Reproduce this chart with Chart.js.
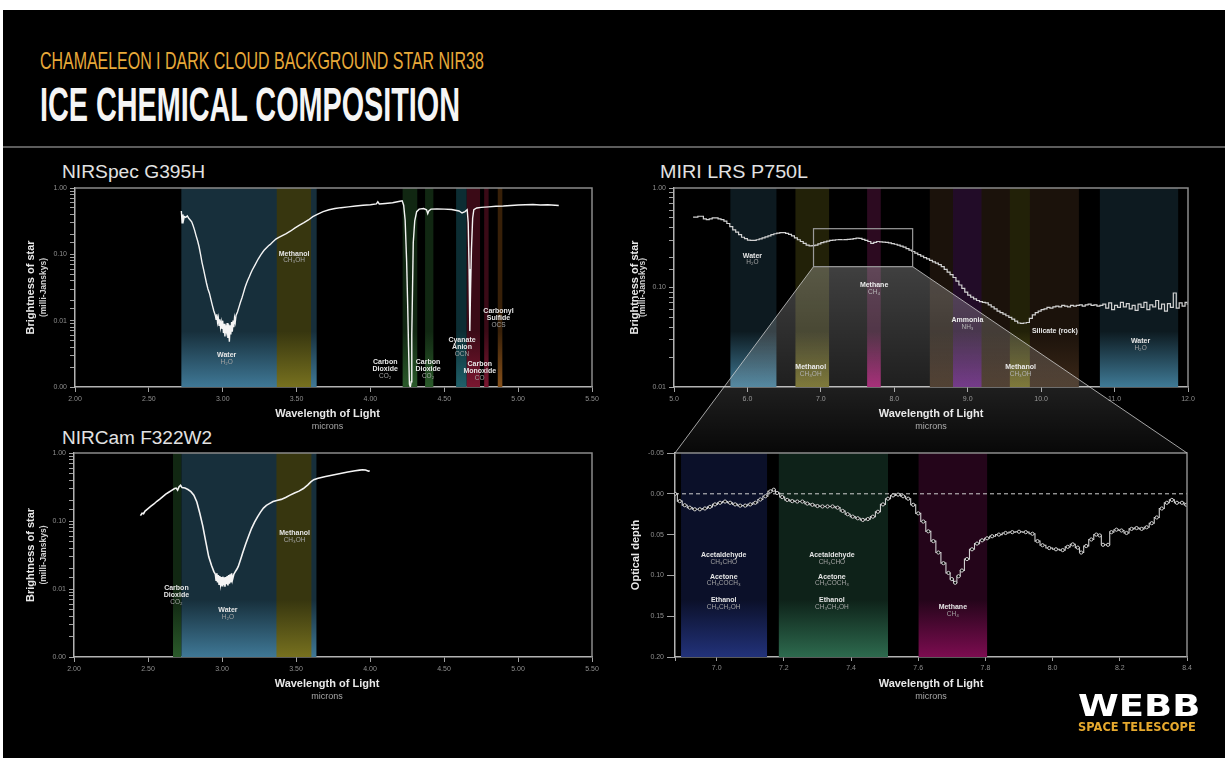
<!DOCTYPE html>
<html><head><meta charset="utf-8">
<script src="https://cdn.jsdelivr.net/npm/chart.js@4.4.1/dist/chart.umd.min.js"></script>
<style>
html,body{margin:0;padding:0;background:#fff;width:1225px;height:758px;overflow:hidden;position:relative}
#frame{position:absolute;left:3px;top:10px;width:1222px;height:748px;background:#000}
#hr{position:absolute;left:3px;top:146px;width:1222px;height:2px;background:#5c5c5c}
.t{position:absolute;white-space:nowrap;transform-origin:0 0;line-height:1}
.box{position:absolute}
.box canvas{display:block}
#ov{position:absolute;left:0;top:0;pointer-events:none}
</style></head><body>
<div id="frame"></div>
<div class="t" data-w="444" style="left:40px;top:47px;font:400 24px 'Liberation Sans',Arial,sans-serif;color:#e8a93a">CHAMAELEON I DARK CLOUD BACKGROUND STAR NIR38</div>
<div class="t" data-w="420" style="left:40px;top:76px;font:700 49px 'Liberation Sans',Arial,sans-serif;color:#f5f5f5">ICE CHEMICAL COMPOSITION</div>
<div id="hr"></div>
<div class="t" data-w="143" style="left:62px;top:162px;font:400 18px 'Liberation Sans',Arial,sans-serif;color:#e2e2e2">NIRSpec G395H</div>
<div class="t" data-w="148" style="left:660px;top:162px;font:400 18px 'Liberation Sans',Arial,sans-serif;color:#e2e2e2">MIRI LRS P750L</div>
<div class="t" data-w="150" style="left:62px;top:428px;font:400 18px 'Liberation Sans',Arial,sans-serif;color:#e2e2e2">NIRCam F322W2</div>
<div class="box" style="left:0;top:150px"><canvas id="cA" width="610" height="290"></canvas></div>
<div class="box" style="left:610px;top:150px"><canvas id="cB" width="615" height="290"></canvas></div>
<div class="box" style="left:0;top:420px"><canvas id="cC" width="610" height="300"></canvas></div>
<div class="box" style="left:610px;top:420px"><canvas id="cD" width="615" height="300"></canvas></div>
<canvas id="ov" width="1225" height="758"></canvas>
<div class="t" data-w="122" style="left:1078px;top:688px;font:700 30px 'DejaVu Sans',sans-serif;color:#fff">WEBB</div>
<div class="t" data-w="118" style="left:1078px;top:720px;font:700 12px 'DejaVu Sans',sans-serif;color:#e6a92e">SPACE TELESCOPE</div>
<script>
// ================= DATA =================
const nirspecWave = [2.720,2.725,2.730,2.735,2.740,2.750,2.760,2.770,2.780,2.790,2.800,2.810,2.820,2.830,2.840,2.850,2.860,2.870,2.880,2.890,2.900,2.910,2.920,2.930,2.940,2.950,2.955,2.960,2.965,2.970,2.975,2.980,2.985,2.990,2.995,3.000,3.005,3.010,3.015,3.020,3.025,3.030,3.035,3.040,3.045,3.050,3.055,3.060,3.065,3.070,3.075,3.080,3.085,3.090,3.100,3.110,3.120,3.130,3.140,3.150,3.160,3.170,3.180,3.190,3.200,3.220,3.240,3.260,3.280,3.300,3.310,3.320,3.340,3.360,3.380,3.400,3.430,3.460,3.490,3.520,3.550,3.580,3.610,3.640,3.680,3.720,3.760,3.800,3.850,3.900,3.950,4.000,4.040,4.050,4.060,4.100,4.150,4.200,4.215,4.225,4.235,4.245,4.252,4.258,4.264,4.270,4.276,4.280,4.285,4.290,4.300,4.313,4.330,4.360,4.380,4.388,4.395,4.410,4.450,4.500,4.550,4.600,4.620,4.640,4.655,4.662,4.668,4.673,4.678,4.684,4.692,4.700,4.720,4.750,4.800,4.850,4.900,4.950,5.000,5.050,5.100,5.150,5.200,5.250,5.275];
const nirspecFlux = [0.45,0.30,0.40,0.33,0.37,0.36,0.38,0.35,0.33,0.31,0.27,0.23,0.19,0.16,0.13,0.10,0.075,0.060,0.047,0.037,0.030,0.026,0.021,0.017,0.014,0.012,0.0105,0.0125,0.0095,0.011,0.0085,0.0105,0.008,0.0095,0.0075,0.010,0.0065,0.009,0.0058,0.0085,0.007,0.0092,0.0055,0.0088,0.0048,0.0085,0.0062,0.0095,0.0068,0.0100,0.0080,0.0110,0.0095,0.0120,0.0135,0.016,0.019,0.022,0.026,0.031,0.036,0.041,0.046,0.052,0.058,0.070,0.085,0.100,0.115,0.128,0.135,0.140,0.155,0.170,0.180,0.190,0.205,0.225,0.250,0.275,0.300,0.330,0.370,0.400,0.440,0.470,0.490,0.505,0.520,0.535,0.550,0.560,0.575,0.62,0.575,0.585,0.600,0.630,0.640,0.55,0.33,0.08,0.018,0.004,0.0011,0.001,0.0012,0.006,0.03,0.15,0.32,0.44,0.48,0.49,0.47,0.41,0.45,0.48,0.485,0.48,0.475,0.45,0.42,0.44,0.47,0.30,0.06,0.007,0.03,0.12,0.35,0.47,0.50,0.51,0.52,0.53,0.535,0.545,0.555,0.56,0.565,0.555,0.56,0.55,0.545];

const nircamWave = [2.449,2.460,2.470,2.480,2.490,2.500,2.520,2.540,2.560,2.580,2.600,2.620,2.640,2.660,2.680,2.690,2.700,2.710,2.720,2.730,2.750,2.770,2.790,2.810,2.830,2.850,2.870,2.890,2.910,2.930,2.945,2.955,2.960,2.965,2.970,2.975,2.980,2.985,2.990,2.995,3.000,3.005,3.010,3.015,3.020,3.025,3.030,3.035,3.040,3.045,3.050,3.055,3.060,3.065,3.070,3.080,3.090,3.100,3.110,3.120,3.130,3.140,3.160,3.180,3.200,3.220,3.240,3.260,3.280,3.300,3.320,3.345,3.370,3.400,3.430,3.460,3.490,3.520,3.550,3.580,3.600,3.620,3.650,3.700,3.750,3.800,3.850,3.900,3.930,3.950,3.970,3.990,3.998];
const nircamFlux = [0.120,0.130,0.128,0.140,0.146,0.152,0.165,0.178,0.195,0.210,0.228,0.248,0.265,0.282,0.300,0.305,0.285,0.320,0.335,0.310,0.305,0.290,0.270,0.240,0.190,0.130,0.085,0.050,0.030,0.022,0.018,0.0165,0.0135,0.017,0.0125,0.016,0.0118,0.0155,0.012,0.015,0.0112,0.0152,0.0115,0.0148,0.0108,0.0150,0.0118,0.0155,0.0113,0.0160,0.0120,0.0165,0.0125,0.0170,0.0135,0.0165,0.0180,0.0195,0.0215,0.025,0.029,0.034,0.046,0.060,0.078,0.096,0.115,0.135,0.155,0.170,0.180,0.193,0.200,0.208,0.222,0.240,0.258,0.275,0.300,0.340,0.375,0.405,0.425,0.450,0.475,0.500,0.525,0.548,0.560,0.568,0.562,0.540,0.548];

const miriWave = [5.26,5.30,5.35,5.38,5.42,5.46,5.50,5.54,5.58,5.62,5.66,5.70,5.74,5.78,5.82,5.86,5.90,5.94,5.98,6.02,6.06,6.10,6.14,6.18,6.22,6.26,6.30,6.34,6.38,6.42,6.46,6.50,6.54,6.58,6.62,6.66,6.70,6.74,6.78,6.82,6.86,6.90,6.94,6.98,7.02,7.06,7.10,7.14,7.18,7.22,7.26,7.30,7.34,7.38,7.42,7.46,7.50,7.54,7.58,7.62,7.66,7.70,7.74,7.78,7.82,7.86,7.90,7.94,7.98,8.02,8.06,8.10,8.14,8.18,8.22,8.26,8.30,8.34,8.38,8.42,8.46,8.50,8.54,8.58,8.62,8.66,8.70,8.74,8.78,8.82,8.86,8.90,8.94,8.98,9.02,9.06,9.10,9.14,9.18,9.22,9.26,9.30,9.34,9.38,9.42,9.46,9.50,9.54,9.58,9.62,9.66,9.70,9.74,9.78,9.82,9.86,9.90,9.94,9.98,10.02,10.06,10.10,10.14,10.18,10.22,10.26,10.30,10.34,10.38,10.42,10.46,10.50,10.54,10.58,10.62,10.66,10.70,10.74,10.78,10.82,10.86,10.90,10.94,10.98,11.02,11.06,11.10,11.14,11.18,11.22,11.26,11.30,11.34,11.38,11.42,11.46,11.50,11.54,11.58,11.62,11.66,11.70,11.74,11.78,11.82,11.86,11.90,11.94,11.98,12.00];
const miriFlux = [0.51,0.51,0.52,0.52,0.49,0.48,0.49,0.50,0.50,0.49,0.48,0.465,0.44,0.41,0.38,0.36,0.34,0.32,0.31,0.30,0.298,0.298,0.302,0.308,0.315,0.322,0.33,0.34,0.347,0.352,0.356,0.356,0.35,0.342,0.33,0.315,0.302,0.29,0.278,0.266,0.262,0.263,0.266,0.275,0.282,0.288,0.293,0.297,0.300,0.302,0.303,0.302,0.303,0.304,0.306,0.310,0.313,0.312,0.305,0.298,0.290,0.277,0.284,0.290,0.288,0.286,0.284,0.281,0.276,0.272,0.266,0.260,0.254,0.246,0.238,0.230,0.222,0.214,0.207,0.200,0.194,0.187,0.181,0.176,0.170,0.162,0.152,0.143,0.135,0.126,0.116,0.106,0.098,0.090,0.084,0.080,0.077,0.074,0.072,0.071,0.070,0.067,0.064,0.061,0.058,0.056,0.054,0.052,0.050,0.048,0.046,0.044,0.0435,0.044,0.0445,0.049,0.053,0.056,0.058,0.060,0.061,0.063,0.062,0.064,0.065,0.064,0.066,0.065,0.064,0.066,0.065,0.066,0.067,0.065,0.067,0.068,0.066,0.067,0.065,0.066,0.068,0.062,0.070,0.060,0.066,0.063,0.071,0.064,0.069,0.061,0.066,0.059,0.068,0.063,0.071,0.060,0.067,0.064,0.074,0.061,0.068,0.058,0.069,0.063,0.088,0.062,0.070,0.065,0.071,0.068];

const depthWave = [6.876,6.890,6.905,6.920,6.935,6.950,6.965,6.980,6.995,7.010,7.025,7.040,7.055,7.070,7.085,7.100,7.115,7.130,7.145,7.160,7.170,7.180,7.195,7.210,7.225,7.240,7.255,7.270,7.285,7.300,7.315,7.330,7.345,7.360,7.375,7.390,7.405,7.420,7.435,7.450,7.465,7.480,7.495,7.510,7.525,7.540,7.555,7.570,7.585,7.600,7.615,7.630,7.645,7.660,7.675,7.690,7.700,7.710,7.720,7.730,7.745,7.760,7.775,7.790,7.805,7.820,7.840,7.860,7.880,7.900,7.920,7.940,7.955,7.970,7.990,8.010,8.030,8.045,8.060,8.075,8.085,8.100,8.115,8.130,8.140,8.150,8.165,8.175,8.190,8.205,8.220,8.235,8.250,8.265,8.280,8.295,8.310,8.325,8.340,8.355,8.370,8.385,8.398];
const depthTau = [0.000,0.009,0.014,0.017,0.019,0.019,0.018,0.016,0.013,0.011,0.0095,0.011,0.013,0.0145,0.0145,0.013,0.011,0.007,0.003,-0.003,-0.005,-0.001,0.004,0.0075,0.009,0.0095,0.0095,0.012,0.0135,0.015,0.0155,0.0155,0.0155,0.017,0.021,0.025,0.028,0.030,0.032,0.031,0.028,0.022,0.013,0.006,0.002,0.001,0.003,0.006,0.0135,0.024,0.034,0.046,0.058,0.072,0.085,0.097,0.1045,0.109,0.101,0.094,0.080,0.068,0.061,0.057,0.0545,0.052,0.050,0.048,0.047,0.0465,0.047,0.049,0.058,0.063,0.0665,0.068,0.069,0.065,0.062,0.066,0.072,0.064,0.056,0.050,0.051,0.0625,0.0625,0.047,0.044,0.045,0.048,0.043,0.042,0.043,0.041,0.036,0.029,0.018,0.011,0.0075,0.011,0.011,0.0135];

const logTickLabels = ['0.00','0.01','0.10','1.00'];   // decades 1e-3 .. 1e0

// bands: [kind, start µm, end µm]
const nirspecBands = [['water',2.72,3.636],['methanol',3.366,3.598],['co2',4.218,4.317],['co2',4.37,4.426],['ocn',4.58,4.652],['co',4.652,4.742],['co',4.77,4.80],['ocs',4.862,4.893]];
const nircamBands = [['co2',2.669,2.726],['water',2.726,3.638],['methanol',3.368,3.604]];
const miriBands = [['waterD',5.768,6.395],['methanolD',6.654,7.112],['methane',7.63,7.816],['silicate',8.484,10.514],['ammonia',8.80,9.188],['methanolD',9.574,9.846],['waterD',10.80,11.866]];
const depthBands = [['navy',6.894,7.150],['green',7.185,7.51],['methaneD',7.601,7.805]];

// molecule labels: [name lines ('|' = new line), formula]
const nirspecLabelText = [['Water','H₂O'],['Methanol','CH₃OH'],['Carbon|Dioxide','CO₂'],['Carbon|Dioxide','CO₂'],['Cyanate|Anion','OCN'],['Carbon|Monoxide','CO'],['Carbonyl|Sulfide','OCS']];
const nircamLabelText = [['Carbon|Dioxide','CO₂'],['Water','H₂O'],['Methanol','CH₃OH']];
const miriLabelText = [['Water','H₂O'],['Methanol','CH₃OH'],['Methane','CH₄'],['Ammonia','NH₃'],['Silicate (rock)',''],['Methanol','CH₃OH'],['Water','H₂O']];
const depthLabelText = [['Acetaldehyde','CH₃CHO'],['Acetone','CH₃COCH₃'],['Ethanol','CH₃CH₂OH'],['Acetaldehyde','CH₃CHO'],['Acetone','CH₃COCH₃'],['Ethanol','CH₃CH₂OH'],['Methane','CH₄']];

// zoomed region of the MIRI spectrum [µm] and [mJy]
const zoomBoxWave = [6.90, 8.25];
const zoomBoxFlux = [0.162, 0.39];

// ================= LAYOUT / STYLE =================
const FONT = "'Liberation Sans', Arial, sans-serif";
const TICK = '#8e8e8e';
const bandColors = {
  water:['#172f3b','#3f7896'], waterD:['#0d1a20','#3f7a96'],
  methanol:['#37360f','#77711f'], methanolD:['#222108','#6e6820'],
  co2:['#112712','#2a5a2a'], ocn:['#0c2d33','#1f5f69'], co:['#3a0a16','#7a1630'], ocs:['#382008','#86501a'],
  methane:['#2c0a20','#9c1468'], methaneD:['#24051a','#7c0c50'],
  silicate:['#1b120b','#3b2818'], ammonia:['#220c28','#62207a'],
  navy:['#0b1029','#22327a'], green:['#0e2219','#2d6a4e']
};
// label positions: [x in µm, y as fraction of plot height (first line)]
const nirspecLabelPos = [[3.027,0.84],[3.483,0.33],[4.10,0.875],[4.39,0.875],[4.62,0.764],[4.74,0.884],[4.867,0.618]];
const nircamLabelPos = [[2.692,0.662],[3.04,0.77],[3.49,0.392]];
const miriLabelPos = [[6.068,0.34],[6.862,0.90],[7.725,0.487],[8.997,0.663],[10.187,0.719],[9.72,0.90],[11.354,0.769]];
const depthLabelPos = [[7.021,0.50],[7.021,0.606],[7.021,0.72],[7.343,0.50],[7.343,0.606],[7.343,0.72],[7.703,0.755]];

const extrasPlugin = {
  id: 'extras',
  beforeDatasetsDraw(chart, args, o) {
    const {ctx, chartArea: a, scales: {x, y}} = chart;
    ctx.save();
    (o.bands || []).forEach(([k, s, e]) => {
      const x1 = x.getPixelForValue(s), x2 = x.getPixelForValue(e);
      const c = bandColors[k];
      const g = ctx.createLinearGradient(0, a.top, 0, a.bottom);
      g.addColorStop(0, c[0]); g.addColorStop(0.72, c[0]); g.addColorStop(1, c[1]);
      ctx.fillStyle = g;
      ctx.fillRect(x1, a.top, x2 - x1, a.bottom - a.top);
    });
    if (o.zeroLine) {
      const yy = y.getPixelForValue(0);
      ctx.setLineDash([4, 3]); ctx.strokeStyle = '#cfcfcf'; ctx.lineWidth = 1;
      ctx.beginPath(); ctx.moveTo(a.left, yy); ctx.lineTo(a.right, yy); ctx.stroke();
      ctx.setLineDash([]);
    }
    ctx.restore();
  },
  afterDatasetsDraw(chart, args, o) {
    const {ctx, chartArea: a, scales: {x}} = chart;
    ctx.save();
    ctx.textAlign = 'center'; ctx.textBaseline = 'middle';
    (o.labelText || []).forEach(([names, formula], i) => {
      const [px, fy] = o.labelPos[i];
      const cx = x.getPixelForValue(px);
      let cy = a.top + fy * (a.bottom - a.top);
      names.split('|').forEach(n => {
        ctx.font = 'bold 7px ' + FONT; ctx.fillStyle = '#e6e6e6';
        ctx.fillText(n, cx, cy); cy += 7.3;
      });
      if (formula) { ctx.font = '6.5px ' + FONT; ctx.fillStyle = '#a5a5a5'; ctx.fillText(formula, cx, cy - 0.3); }
    });
    ctx.restore();
  },
  afterDraw(chart, args, o) {
    const {ctx, chartArea: a} = chart;
    ctx.save();
    ctx.strokeStyle = '#8a8a8a'; ctx.lineWidth = 1.5;
    ctx.beginPath(); ctx.moveTo(a.left, a.top); ctx.lineTo(a.right, a.top); ctx.lineTo(a.right, a.bottom); ctx.stroke();
    ctx.textAlign = 'center'; ctx.textBaseline = 'middle';
    const cx = (a.left + a.right) / 2 + (o.xTitleDx || 0);
    ctx.font = 'bold 11px ' + FONT; ctx.fillStyle = '#e8e8e8';
    ctx.fillText('Wavelength of Light', cx, a.bottom + 27);
    ctx.font = '9px ' + FONT; ctx.fillStyle = '#a8a8a8';
    ctx.fillText('microns', cx, a.bottom + 40);
    const cy = (a.top + a.bottom) / 2;
    ctx.translate(a.left + o.yTitleDx[0], cy); ctx.rotate(-Math.PI / 2);
    ctx.font = 'bold 11px ' + FONT; ctx.fillStyle = '#e8e8e8';
    ctx.fillText(o.yTitle[0], 0, 0);
    if (o.yTitle[1]) {
      ctx.font = 'bold 8.5px ' + FONT; ctx.fillStyle = '#d0d0d0';
      ctx.fillText(o.yTitle[1], 0, o.yTitleDx[1] - o.yTitleDx[0]);
    }
    ctx.restore();
  }
};

function build(id, p) {
  const W = p.size[0], H = p.size[1];
  const yScale = p.log ? {
    type: 'logarithmic', min: p.yMin, max: p.yMax,
    ticks: { autoSkip: false, color: TICK, font: {size: 7, family: FONT}, padding: 3,
      callback(v) { const l = Math.log10(v), r = Math.round(l); return Math.abs(l - r) < 1e-6 ? logTickLabels[r + 3] : ''; } }
  } : {
    type: 'linear', min: p.yMin, max: p.yMax, reverse: true,
    ticks: { stepSize: p.yStep, autoSkip: false, color: TICK, font: {size: 7, family: FONT}, padding: 3,
      callback(v) { return Number(v).toFixed(2); } }
  };
  Object.assign(yScale, {
    afterFit(s) { s.width = p.area[0]; s.paddingTop = 0; s.paddingBottom = 0; },
    grid: { drawOnChartArea: false, tickLength: p.yTickLen, tickColor: '#a3a3a3', tickWidth: 1 },
    border: { color: '#b3b3b3', width: 1.5 }
  });
  return new Chart(document.getElementById(id), {
    type: 'line',
    data: { datasets: p.datasets },
    options: {
      responsive: false, animation: false, events: [],
      layout: { padding: { left: 0, top: p.area[1], right: W - p.area[2], bottom: 0 } },
      plugins: { legend: {display: false}, tooltip: {enabled: false},
        extras: { bands: p.bands, labelText: p.labelText, labelPos: p.labelPos, zeroLine: p.zeroLine,
                  yTitle: p.yTitle, yTitleDx: p.yTitleDx, xTitleDx: p.xTitleDx } },
      scales: {
        x: { type: 'linear', min: p.xMin, max: p.xMax,
          afterFit(s) { s.height = H - p.area[3]; s.paddingLeft = 0; s.paddingRight = 0; },
          ticks: { stepSize: p.xStep, autoSkip: false, maxRotation: 0, color: TICK, font: {size: 7, family: FONT}, padding: 3,
            callback(v) { return (p.hideFirstX && Math.abs(v - p.xMin) < 1e-6) ? '' : Number(v).toFixed(p.xDigits); } },
          grid: { drawOnChartArea: false, tickLength: p.xTickLen, tickColor: '#a3a3a3', tickWidth: 1 },
          border: { color: '#b3b3b3', width: 1.5 } },
        y: yScale
      }
    },
    plugins: [extrasPlugin]
  });
}
const pts = (xs, ys) => xs.map((v, i) => ({x: v, y: ys[i]}));

const chartA = build('cA', {
  size: [610, 290], area: [75, 38, 592, 237], log: true, yMin: 0.001, yMax: 1, yTickLen: 5,
  xMin: 2, xMax: 5.5, xStep: 0.5, xDigits: 2, xTickLen: 5,
  bands: nirspecBands, labelText: nirspecLabelText, labelPos: nirspecLabelPos,
  yTitle: ['Brightness of star', '(milli-Janskys)'], yTitleDx: [-44, -31], xTitleDx: -6,
  datasets: [{ data: pts(nirspecWave, nirspecFlux), borderColor: '#f4f4f4', borderWidth: 1.4, pointRadius: 0, tension: 0 }]
});
const chartB = build('cB', {
  size: [615, 290], area: [64, 38, 578, 237], log: true, yMin: 0.01, yMax: 1, yTickLen: 5,
  xMin: 5, xMax: 12, xStep: 1, xDigits: 1, xTickLen: 5,
  bands: miriBands, labelText: miriLabelText, labelPos: miriLabelPos,
  yTitle: ['Brightness of star', '(milli-Janskys)'], yTitleDx: [-39, -31], xTitleDx: 0,
  datasets: [{ data: pts(miriWave, miriFlux), borderColor: '#d2d2d2', borderWidth: 1.2, pointRadius: 0, stepped: 'middle' }]
});
const chartC = build('cC', {
  size: [610, 300], area: [74, 33, 592, 237], log: true, yMin: 0.001, yMax: 1, yTickLen: 5,
  xMin: 2, xMax: 5.5, xStep: 0.5, xDigits: 2, xTickLen: 5,
  bands: nircamBands, labelText: nircamLabelText, labelPos: nircamLabelPos,
  yTitle: ['Brightness of star', '(milli-Janskys)'], yTitleDx: [-43, -30], xTitleDx: -6,
  datasets: [{ data: pts(nircamWave, nircamFlux), borderColor: '#f4f4f4', borderWidth: 1.6, pointRadius: 0, tension: 0 }]
});
const chartD = build('cD', {
  size: [615, 300], area: [65, 33, 577, 237], log: false, yMin: -0.05, yMax: 0.2, yStep: 0.05, yTickLen: 8,
  xMin: 6.876, xMax: 8.4, xStep: 0.2, xDigits: 1, xTickLen: 4, hideFirstX: true,
  bands: depthBands, labelText: depthLabelText, labelPos: depthLabelPos, zeroLine: true,
  yTitle: ['Optical depth'], yTitleDx: [-39], xTitleDx: 0,
  datasets: [{ data: pts(depthWave, depthTau), borderColor: '#d0d0d0', borderWidth: 1.1, stepped: 'middle',
               pointRadius: 1.6, pointBackgroundColor: '#000', pointBorderColor: '#e2e2e2', pointBorderWidth: 0.9 }]
});

// zoom connector between MIRI spectrum and optical-depth panel
(function drawZoom() {
  const ctx = document.getElementById('ov').getContext('2d');
  const bBox = chartB.canvas.parentNode, dBox = chartD.canvas.parentNode;
  const bx = bBox.offsetLeft, by = bBox.offsetTop, dx = dBox.offsetLeft, dy = dBox.offsetTop;
  const xl = bx + chartB.scales.x.getPixelForValue(zoomBoxWave[0]);
  const xr = bx + chartB.scales.x.getPixelForValue(zoomBoxWave[1]);
  const yt = by + chartB.scales.y.getPixelForValue(zoomBoxFlux[1]);
  const yb = by + chartB.scales.y.getPixelForValue(zoomBoxFlux[0]);
  const L = dx + chartD.chartArea.left, R = dx + chartD.chartArea.right, T = dy + chartD.chartArea.top;
  const axisY = by + chartB.chartArea.bottom;
  const g = ctx.createLinearGradient(0, yb, 0, T);
  const f = (axisY - yb) / (T - yb);
  g.addColorStop(0, 'rgba(255,255,255,0.25)');
  g.addColorStop(f, 'rgba(255,255,255,0.12)');
  g.addColorStop(1, 'rgba(255,255,255,0.03)');
  ctx.fillStyle = g;
  ctx.beginPath(); ctx.moveTo(xl, yb); ctx.lineTo(xr, yb); ctx.lineTo(R, T); ctx.lineTo(L, T); ctx.closePath(); ctx.fill();
  ctx.strokeStyle = 'rgba(215,215,215,0.75)'; ctx.lineWidth = 1;
  ctx.beginPath(); ctx.moveTo(xl, yb); ctx.lineTo(L, T); ctx.moveTo(xr, yb); ctx.lineTo(R, T); ctx.stroke();
  ctx.strokeStyle = '#9a9a9a'; ctx.lineWidth = 1.2;
  ctx.strokeRect(xl, yt, xr - xl, yb - yt);
})();

// condense header texts to their target widths
document.querySelectorAll('.t[data-w]').forEach(el => {
  const w = el.offsetWidth;
  el.style.transform = 'scaleX(' + (parseFloat(el.dataset.w) / w) + ')';
});
</script>
</body></html>
